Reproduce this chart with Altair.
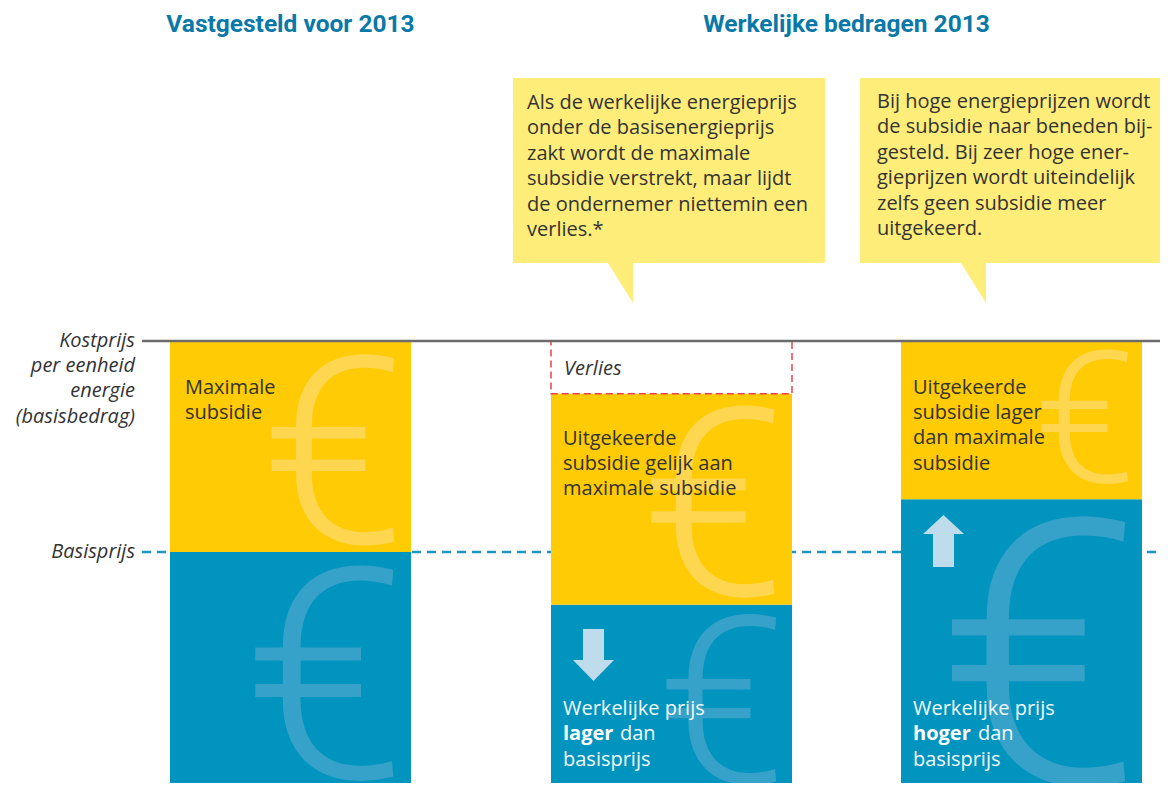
import altair as alt
import pandas as pd

# ---------------- data ----------------
columns = ["Vastgesteld voor 2013", "Werkelijk lager", "Werkelijk hoger"]
bar_left = [170, 551, 901]
bar_width = 241
kostprijs = 100          # basisbedrag (index)
basisprijs = 60
werkelijke_prijs = [60, 50, 70]
uitgekeerde_subsidie = [40, 40, 30]
verlies = [0, 10, 0]

titles = ["Vastgesteld voor 2013", "Werkelijke bedragen 2013"]
callout_texts = [
    "Als de werkelijke energieprijs\nonder de basisenergieprijs\nzakt wordt de maximale\nsubsidie verstrekt, maar lijdt\nde ondernemer niettemin een\nverlies.*",
    "Bij hoge energieprijzen wordt\nde subsidie naar beneden bij-\ngesteld. Bij zeer hoge ener-\ngieprijzen wordt uiteindelijk\nzelfs geen subsidie meer\nuitgekeerd.",
]
subsidie_labels = [
    "Maximale\nsubsidie",
    "Uitgekeerde\nsubsidie gelijk aan\nmaximale subsidie",
    "Uitgekeerde\nsubsidie lager\ndan maximale\nsubsidie",
]
axis_labels = ["Kostprijs\nper eenheid\nenergie\n(basisbedrag)", "Basisprijs"]

YELLOW = "#FFCB05"
BLUE = "#0094BE"
CALLOUT = "#FFED7A"
DARK = "#333333"
TITLE = "#0A79A8"

# ---------------- layout helpers ----------------
PX = 211 / (kostprijs - basisprijs)     # pixels per index unit
def lv(py):
    return kostprijs - (py - 341) / PX

xs = alt.Scale(domain=[8, 1160], nice=False, zero=False)
ys = alt.Scale(domain=[lv(783), lv(8)], nice=False, zero=False)

X = lambda f="x": alt.X(f"{f}:Q", scale=xs, axis=None)
Y = lambda f="y": alt.Y(f"{f}:Q", scale=ys, axis=None)

# bars
bars = []
for i in range(3):
    l = bar_left[i]
    bars.append(dict(x=l, x2=l + bar_width, y=0, y2=werkelijke_prijs[i], c=BLUE))
    bars.append(dict(x=l, x2=l + bar_width, y=werkelijke_prijs[i],
                     y2=werkelijke_prijs[i] + uitgekeerde_subsidie[i], c=YELLOW))
bars_df = pd.DataFrame(bars)

loss = []
for i in range(3):
    if verlies[i] > 0:
        top = werkelijke_prijs[i] + uitgekeerde_subsidie[i]
        loss.append(dict(x=bar_left[i], x2=bar_left[i] + bar_width, y=top, y2=top + verlies[i]))
loss_df = pd.DataFrame(loss)

callout_df = pd.DataFrame(dict(x=[513, 860], x2=[825, 1168], y=[lv(78)] * 2, y2=[lv(263)] * 2))
pointer_df = pd.DataFrame(dict(
    x=[608, 633, 961, 986],
    y=[lv(263)] * 4,
    y2=[lv(263), lv(303), lv(263), lv(303)],
    g=["a", "a", "b", "b"],
))

line_df = pd.DataFrame(dict(x=[142], x2=[1168], y=[kostprijs]))
basis_df = pd.DataFrame(dict(x=[142], x2=[1168], y=[basisprijs]))

euro_df = pd.DataFrame(dict(
    x=[333.5, 325, 713.5, 722, 1085, 1039.5],
    y=[lv(543), lv(778), lv(595), lv(783), lv(482), lv(783)],
    s=[262, 295, 263, 234, 184, 370],
    c=["#FFD64F", "#36A2C9", "#FFD64F", "#36A2C9", "#FFD64F", "#36A2C9"],
))

# arrows: shaft rects + head triangles
shaft_df = pd.DataFrame(dict(x=[583, 933], x2=[604, 954], y=[lv(629), lv(534)], y2=[lv(660), lv(567)]))
head_df = pd.DataFrame(dict(
    x=[573, 593.5, 614, 923, 943.5, 964],
    y=[lv(660), lv(660), lv(660), lv(534), lv(515), lv(534)],
    y2=[lv(660), lv(681), lv(660), lv(534), lv(534), lv(534)],
    g=["d", "d", "d", "u", "u", "u"],
))

title_df = pd.DataFrame(dict(x=[290.5, 846.5], y=[lv(32)] * 2, t=titles))
callout_txt_df = pd.DataFrame(dict(x=[527, 877], y=[lv(109), lv(108)], t=callout_texts))
sub_df = pd.DataFrame(dict(x=[185, 563, 913], y=[lv(394), lv(445), lv(394)], t=subsidie_labels))
axis_df = pd.DataFrame(dict(x=[135, 135], y=[lv(347), lv(558)], t=axis_labels))
verlies_df = pd.DataFrame(dict(x=[564], y=[lv(375)], t=["Verlies"]))
white_df = pd.DataFrame(dict(
    x=[563, 620, 563, 913, 978, 913],
    y=[lv(715), lv(740), lv(766), lv(715), lv(740), lv(766)],
    t=["Werkelijke prijs", "dan", "basisprijs", "Werkelijke prijs", "dan", "basisprijs"],
))
bold_df = pd.DataFrame(dict(x=[563, 913], y=[lv(740)] * 2, t=["lager", "hoger"]))

FONT = "Open Sans"
FS = 20

layers = [
    alt.Chart(callout_df).mark_rect(color=CALLOUT, clip=True).encode(x=X(), x2="x2:Q", y=Y(), y2="y2:Q"),
    alt.Chart(pointer_df).mark_area(color=CALLOUT).encode(x=X(), y=Y(), y2="y2:Q", detail="g:N"),
    alt.Chart(basis_df).mark_rule(color="#1B96C1", strokeWidth=2.5, strokeDash=[9, 6], clip=True).encode(x=X(), x2="x2:Q", y=Y()),
    alt.Chart(bars_df).mark_rect(clip=True).encode(x=X(), x2="x2:Q", y=Y(), y2="y2:Q", color=alt.Color("c:N", scale=None)),
    alt.Chart(euro_df).mark_text(text="€", font="Roboto", fontWeight=300, align="center", baseline="alphabetic", clip=True).encode(
        x=X(), y=Y(), size=alt.Size("s:Q", scale=None), color=alt.Color("c:N", scale=None)),
    alt.Chart(loss_df).mark_rect(fillOpacity=0, stroke="#E8434B", strokeWidth=1.5, strokeDash=[7, 4]).encode(x=X(), x2="x2:Q", y=Y(), y2="y2:Q"),
    alt.Chart(line_df).mark_rule(color="#6B6B6B", strokeWidth=2.5, clip=True).encode(x=X(), x2="x2:Q", y=Y()),
    alt.Chart(shaft_df).mark_rect(color="#BFDCEC").encode(x=X(), x2="x2:Q", y=Y(), y2="y2:Q"),
    alt.Chart(head_df).mark_area(color="#BFDCEC").encode(x=X(), y=Y(), y2="y2:Q", detail="g:N"),
    alt.Chart(title_df).mark_text(font="Roboto", fontWeight="bold", fontSize=24.5, color=TITLE, align="center", baseline="alphabetic").encode(x=X(), y=Y(), text="t:N"),
    alt.Chart(callout_txt_df).mark_text(font=FONT, fontSize=FS, color=DARK, align="left", baseline="alphabetic", lineBreak="\n", lineHeight=25.4).encode(x=X(), y=Y(), text="t:N"),
    alt.Chart(sub_df).mark_text(font=FONT, fontSize=FS, color=DARK, align="left", baseline="alphabetic", lineBreak="\n", lineHeight=25.2).encode(x=X(), y=Y(), text="t:N"),
    alt.Chart(axis_df).mark_text(font=FONT, fontSize=FS, fontStyle="italic", color=DARK, align="right", baseline="alphabetic", lineBreak="\n", lineHeight=25.2).encode(x=X(), y=Y(), text="t:N"),
    alt.Chart(verlies_df).mark_text(font=FONT, fontSize=FS, fontStyle="italic", color=DARK, align="left", baseline="alphabetic").encode(x=X(), y=Y(), text="t:N"),
    alt.Chart(white_df).mark_text(font=FONT, fontSize=FS, color="#F4F9FC", align="left", baseline="alphabetic").encode(x=X(), y=Y(), text="t:N"),
    alt.Chart(bold_df).mark_text(font=FONT, fontSize=FS, fontWeight="bold", color="#FFFFFF", align="left", baseline="alphabetic").encode(x=X(), y=Y(), text="t:N"),
]

chart = alt.layer(*layers).properties(
    width=1152, height=775, padding=0, autosize=alt.AutoSizeParams(type="none"), background="white"
).configure_view(strokeWidth=0)

chart.save("out.html", embed_options={"renderer": "svg", "actions": False})
